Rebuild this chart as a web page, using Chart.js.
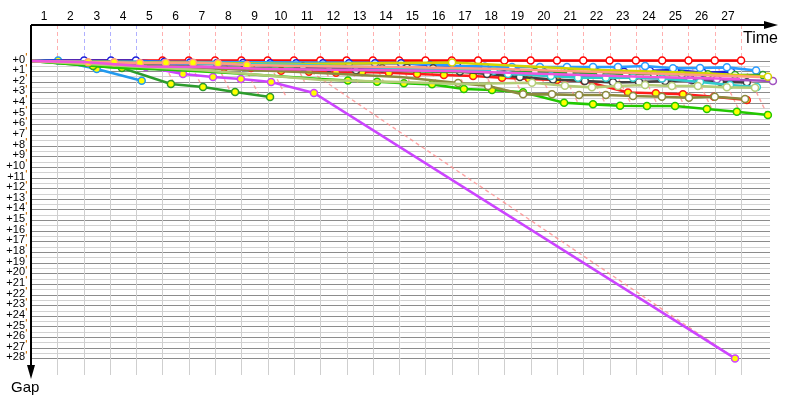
<!DOCTYPE html>
<html>
<head>
<meta charset="utf-8">
<script src="https://cdn.jsdelivr.net/npm/chart.js@4"></script>
<style>
  html, body { margin: 0; padding: 0; background: #fff; }
  canvas { display: block; }
</style>
</head>
<body>
<canvas id="chart" width="800" height="400"></canvas>
<script>
/* Gap chart: x = time (in leader laps), y = gap to the leader (minutes) */

const LAP_LABELS = ['1','2','3','4','5','6','7','8','9','10','11','12','13','14','15','16','17','18','19','20','21','22','23','24','25','26','27'];
const GAP_TICKS = [0,1,2,3,4,5,6,7,8,9,10,11,12,13,14,15,16,17,18,19,20,21,22,23,24,25,26,27,28];

// leader (red)
const leaderX = [0,1,2,3,4,5,6,7,8,9,10,11,12,13,14,15,16,17,18,19,20,21,22,23,24,25,26,27];
const leaderY = [0,0,0,0,0,0,0,0,0,0,0,0,0,0,0,0,0,0,0,0,0,0,0,0,0,0,0,0];

// dark blue, leads laps 2-4
const blueX = [0,2.02,3.04,3.99,5.06,6.05,7.07,8.06,9.09,10.08,11.10,12.09,13.08,14.07,15.17,16.2,17.26,18.48,19.51,20.53,21.52,22.55,23.53,24.49,25.55,26.62];
const blueY = [0,0,0,0,0.14,0.19,0.23,0.23,0.26,0.26,0.26,0.26,0.26,0.26,0.42,0.52,0.58,1.05,1.11,1.11,1.11,1.05,0.96,0.89,1.15,1.05];

// purple, falls back
const purpleX = [0,4.37,5.78,6.92,7.98,9.13,10.76,26.77];
const purpleY = [0,0.61,1.27,1.55,1.74,2.02,3.05,28.0];

// dark green, retires after lap 9
const dgreenX = [0,2.36,3.46,5.32,6.54,7.76,9.09];
const dgreenY = [0.05,0.52,0.70,2.21,2.49,2.96,3.43];

// light blue, retires after lap 4
const lblueX = [0,1.03,2.5,4.21];
const lblueY = [0,0,0.80,1.90];

// bright green
const bgreenX = [0,3.38,5.48,7.57,9.85,11.02,12.05,13.16,14.18,15.25,16.46,17.53,18.71,20.27,21.37,22.40,23.42,24.49,25.70,26.84,28.02];
const bgreenY = [0.05,0.70,0.89,1.17,1.55,1.74,1.88,1.99,2.14,2.24,2.68,2.77,2.99,3.97,4.12,4.25,4.28,4.28,4.56,4.81,5.12];

// red with yellow marks
const red2X = [0,5.40,7.34,8.37,9.51,10.57,11.60,12.59,13.61,14.68,15.70,16.81,17.91,18.94,20.0,21.03,22.70,23.76,24.79,25.97,27.22];
const red2Y = [0.05,0.52,0.68,0.70,0.96,1.05,1.15,1.08,1.15,1.27,1.36,1.46,1.62,1.74,1.83,1.93,3.01,3.08,3.17,3.40,3.71];

// dark grey
const greyX = [0,4.9,8.33,10.34,11.33,12.36,13.35,14.30,15.29,16.31,17.34,18.59,19.85,21.06,22.13,23.12,24.11,25.13,26.2,27.22];
const greyY = [0.05,0.19,0.38,0.58,0.68,0.92,0.73,0.68,0.73,1.03,1.27,1.55,1.79,1.93,2.05,2.02,1.93,1.86,1.99,2.05];

// olive
const oliveX = [0,6.43,10.23,14.03,16.24,17.38,18.71,19.81,20.84,21.86,22.89,23.99,25.02,26.0,27.15];
const oliveY = [0.05,0.70,1.08,1.55,2.11,2.40,3.18,3.18,3.24,3.24,3.34,3.40,3.50,3.40,3.62];

// khaki green
const khakiX = [0,6.43,11.06,14.03,16.31,19.05,20.30,21.33,22.32,23.35,24.37,25.36,26.46,27.53];
const khakiY = [0.05,0.89,1.83,2.02,2.21,2.09,2.37,2.52,2.40,2.30,2.40,2.40,2.52,2.56];

// medium green
const mgreenX = [0,6.43,12.13,15.93,19.16,20.49,21.63,22.62,23.69,24.75,25.74,26.77,27.83];
const mgreenY = [0.05,0.61,0.89,1.08,1.08,1.17,1.17,1.27,1.27,1.30,1.30,1.36,1.36];

// cyan
const cyanX = [0,10.23,17.6,18.14,19.77,20.80,21.86,22.89,23.99,25.44,26.58,27.60];
const cyanY = [0.05,0.42,0.96,1.27,1.46,1.62,1.62,1.62,1.69,2.02,2.30,2.49];

// violet
const violetX = [0,10.23,15.93,20.11,24.0,25.06,26.08,28.21];
const violetY = [0.05,0.52,0.89,1.46,1.69,1.76,1.76,1.92];

// yellow
const yellowX = [0,10.23,16.01,18.59,21.63,25.44,28.02];
const yellowY = [0.05,0.33,0.19,0.52,0.89,1.17,1.52];

// sky blue
const skyX = [0,14.03,16.31,18.29,19.35,20.38,21.37,22.32,23.35,24.41,25.44,26.46,27.57];
const skyY = [0.05,0.23,0.52,0.61,0.61,0.61,0.61,0.61,0.52,0.73,0.70,0.64,0.94];

// salmon
const salmonX = [0,2.17,3.16,4.14,5.13,6.16,7.11,8.21,10.23,14.03,17.83,21.63,25.44,27.72];
const salmonY = [0.05,0.17,0.17,0.23,0.21,0.21,0.26,0.42,0.52,0.61,0.80,1.08,1.36,1.55];

// magenta
const magentaX = [0,1.98,4.41,6.43,9.09,12.13,15.93,19.73,23.54,26.96];
const magentaY = [0.05,0.14,0.56,0.61,0.80,0.89,0.99,1.27,1.55,1.74];

// lap lines: leader crossing -> last car on the same lap
const lapLineStartX = [5,6,7,8,9,10,11,12,13,14,15,16,17,18,19,20,21,22,23,24,25,26,27,10];
const lapLineEndX   = [5.45,6.6,7.6,8.7,9.7,10.4,11.45,12.45,13.45,14.45,15.5,16.55,17.6,18.7,19.8,20.8,21.85,22.85,23.85,24.85,25.9,26.95,28.0,26.77];
const lapLineEndY   = [2.2,2.9,3.0,3.4,3.4,2.0,2.2,2.2,2.2,2.3,2.4,2.7,2.8,3.2,3.3,4.0,4.1,4.25,4.3,4.3,4.6,4.8,5.1,28.0];

const LEAD_MARK_COLORS = ['#ffb0b0','#b0b0ff','#b0b0ff','#b0b0ff'];

function pts(xs, ys) {
    return xs.map((x, i) => ({ x: x, y: ys[i] }));
}

function series(xs, ys, color, fill, radius) {
    return {
        data: pts(xs, ys),
        borderColor: color,
        backgroundColor: fill,
        pointBorderColor: color,
        pointBackgroundColor: fill,
        pointRadius: radius,
        pointBorderWidth: 1.5,
        borderWidth: 2.6,
        showLine: true,
        clip: false,
        order: 1
    };
}

const datasets = [];

// dashed lap lines (drawn beneath the cars)
lapLineStartX.forEach((x0, i) => {
    datasets.push({
        data: [{ x: x0, y: 0 }, { x: lapLineEndX[i], y: lapLineEndY[i] }],
        borderColor: 'rgba(255,140,140,0.8)',
        borderDash: [4, 3],
        borderWidth: 1.4,
        pointRadius: 0,
        showLine: true,
        order: 20
    });
});

datasets.push(series(magentaX, magentaY, '#ee55dd', '#ffffff', 0));
datasets.push(series(salmonX, salmonY, '#ff9c80', '#ffff00', salmonX.map((x, i) => i > 0 && i < 8 ? 3.5 : 0)));
datasets.push(series(khakiX, khakiY, '#b4cc78', '#ffffff', khakiX.map((x, i) => i > 4 ? 3.5 : 0)));
datasets.push(series(oliveX, oliveY, '#8c8a3e', '#ffffff', oliveX.map((x, i) => i > 3 ? 3.5 : 0)));
datasets.push(series(cyanX, cyanY, '#30cccc', '#ffffff', cyanX.map((x, i) => i > 1 ? 3.5 : 0)));
datasets.push(series(yellowX, yellowY, '#d4d400', '#ffffff', yellowX.map((x, i) => i === 2 || i === 6 ? 3.5 : 0)));
datasets.push(series(violetX, violetY, '#a050c0', '#ffffff', violetX.map((x, i) => i > 3 ? 3.5 : 0)));
datasets.push(series(mgreenX, mgreenY, '#2ea02e', '#ffffff', mgreenX.map((x, i) => i > 3 ? 3.5 : 0)));
datasets.push(series(greyX, greyY, '#404040', '#ffffff', greyX.map((x, i) => i > 2 ? 3.5 : 0)));
datasets.push(series(skyX, skyY, '#2a9cff', '#ffffff', skyX.map((x, i) => i > 2 ? 3.5 : 0)));
datasets.push(series(bgreenX, bgreenY, '#22c800', '#ffff00', bgreenX.map((x, i) => i > 5 ? 3.5 : 0)));
datasets.push(series(red2X, red2Y, '#ff1a1a', '#ffff00', red2X.map((x, i) => i > 0 ? 3.5 : 0)));
datasets.push(series(dgreenX, dgreenY, '#2c9c2c', '#ffff00', dgreenX.map((x, i) => i > 0 ? 3.5 : 0)));
datasets.push(series(purpleX, purpleY, '#cc44ff', '#ffff00', purpleX.map((x, i) => i > 0 ? 3.5 : 0)));
datasets.push(series(blueX, blueY, '#1c1cd8', '#ffffff', blueX.map((x, i) => i > 0 ? 3.5 : 0)));
datasets.push(series(lblueX, lblueY, '#2299ee', '#ffff00', lblueX.map((x, i) => i > 0 ? 3.5 : 0)));
datasets.push(series(leaderX, leaderY, '#ff0000', '#ffffff', leaderX.map(x => x >= 5 ? 3.5 : 0)));

const framePlugin = {
    id: 'frame',
    beforeDatasetsDraw(chart) {
        const ctx = chart.ctx;
        const xs = chart.scales.x, ys = chart.scales.y;
        const x0 = xs.getPixelForValue(0);
        const y0 = ys.getPixelForValue(0);
        ctx.save();
        ctx.lineWidth = 1;
        // horizontal grid every half minute
        for (let g = 0; g <= 28; g += 0.5) {
            const py = Math.round(ys.getPixelForValue(g)) + 0.5;
            ctx.strokeStyle = Number.isInteger(g) ? '#8c8c8c' : '#d2d2d2';
            ctx.beginPath();
            ctx.moveTo(x0, py);
            ctx.lineTo(xs.right, py);
            ctx.stroke();
        }
        // vertical lap grid
        ctx.strokeStyle = '#cfcfcf';
        leaderX.forEach(k => {
            if (k === 0) return;
            const px = Math.round(xs.getPixelForValue(k)) + 0.5;
            ctx.beginPath();
            ctx.moveTo(px, y0);
            ctx.lineTo(px, ys.bottom);
            ctx.stroke();
        });
        // dashed lines from the time axis down to the leader
        ctx.setLineDash([4, 3]);
        leaderX.forEach(k => {
            if (k === 0) return;
            const px = Math.round(xs.getPixelForValue(k)) + 0.5;
            ctx.strokeStyle = LEAD_MARK_COLORS[k - 1] || '#ffb0b0';
            ctx.beginPath();
            ctx.moveTo(px, ys.top);
            ctx.lineTo(px, y0);
            ctx.stroke();
        });
        ctx.restore();
    },
    afterDraw(chart) {
        const ctx = chart.ctx;
        const xs = chart.scales.x, ys = chart.scales.y;
        const left = xs.left, top = ys.top;
        ctx.save();
        ctx.strokeStyle = '#000';
        ctx.fillStyle = '#000';
        ctx.lineWidth = 2;
        // time axis
        ctx.beginPath();
        ctx.moveTo(left, top);
        ctx.lineTo(768, top);
        ctx.stroke();
        ctx.beginPath();
        ctx.moveTo(778, top);
        ctx.lineTo(764, top - 4);
        ctx.lineTo(764, top + 4);
        ctx.closePath();
        ctx.fill();
        // gap axis
        ctx.beginPath();
        ctx.moveTo(left, top);
        ctx.lineTo(left, 368);
        ctx.stroke();
        ctx.beginPath();
        ctx.moveTo(left, 379);
        ctx.lineTo(left - 4, 365);
        ctx.lineTo(left + 4, 365);
        ctx.closePath();
        ctx.fill();

        // lap labels, centred in each lap
        ctx.font = '12px "Liberation Sans", Arial, sans-serif';
        ctx.textAlign = 'center';
        ctx.textBaseline = 'middle';
        LAP_LABELS.forEach((t, i) => {
            ctx.fillText(t, xs.getPixelForValue(i + 0.5), 17);
        });

        // gap labels: "+N" in black, minute mark in orange
        GAP_TICKS.forEach(g => {
            const py = ys.getPixelForValue(g) - 1;
            ctx.font = '11px "Liberation Sans", Arial, sans-serif';
            ctx.textAlign = 'right';
            ctx.fillStyle = '#000';
            ctx.fillText('+' + g, left - 6, py);
            ctx.font = 'bold 9px "DejaVu Sans", sans-serif';
            ctx.textAlign = 'left';
            ctx.fillStyle = '#d07000';
            ctx.fillText("'", left - 6, py - 2);
        });

        // axis titles
        ctx.font = '16px "Liberation Sans", Arial, sans-serif';
        ctx.fillStyle = '#000';
        ctx.textAlign = 'left';
        ctx.textBaseline = 'alphabetic';
        ctx.fillText('Time', 743, 43);
        ctx.font = '15px "Liberation Sans", Arial, sans-serif';
        ctx.fillText('Gap', 11, 392);
        ctx.restore();
    }
};

new Chart(document.getElementById('chart'), {
    type: 'scatter',
    data: { datasets },
    options: {
        responsive: false,
        animation: false,
        layout: { padding: { left: 31, top: 25, right: 30, bottom: 25 } },
        plugins: { legend: { display: false }, tooltip: { enabled: false } },
        scales: {
            x: { type: 'linear', min: 0, max: 28.1, display: false },
            y: { type: 'linear', min: -3.34, max: 29.56, reverse: true, display: false }
        }
    },
    plugins: [framePlugin]
});
</script>
</body>
</html>
